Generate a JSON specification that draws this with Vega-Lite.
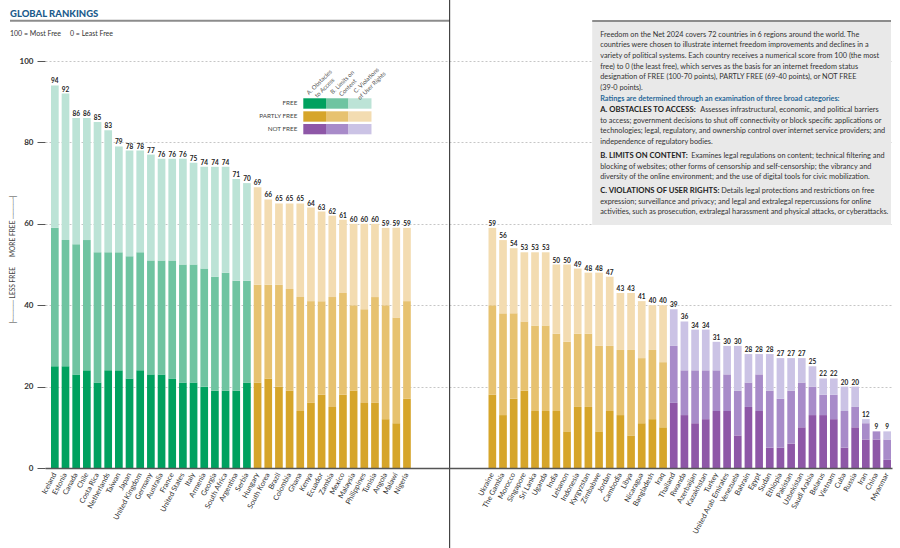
{
"$schema": "https://vega.github.io/schema/vega-lite/v6.json",
"width": 847, "height": 407,
"autosize": "none",
"padding": {"left": 45, "top": 61, "right": 8, "bottom": 80},
"background": "white",
"config": {"view": {"stroke": null}, "font": "Lato"},
"datasets": {
 "c": [
  {"country":"Iceland","status":"FREE","A":25,"B":34,"C":35,"score":94},
  {"country":"Estonia","status":"FREE","A":25,"B":31,"C":36,"score":92},
  {"country":"Canada","status":"FREE","A":23,"B":32,"C":31,"score":86},
  {"country":"Chile","status":"FREE","A":24,"B":32,"C":30,"score":86},
  {"country":"Costa Rica","status":"FREE","A":21,"B":32,"C":32,"score":85},
  {"country":"Netherlands","status":"FREE","A":24,"B":29,"C":30,"score":83},
  {"country":"Taiwan","status":"FREE","A":24,"B":29,"C":26,"score":79},
  {"country":"Japan","status":"FREE","A":22,"B":30,"C":26,"score":78},
  {"country":"United Kingdom","status":"FREE","A":24,"B":29,"C":25,"score":78},
  {"country":"Germany","status":"FREE","A":23,"B":28,"C":26,"score":77},
  {"country":"Australia","status":"FREE","A":23,"B":28,"C":25,"score":76},
  {"country":"France","status":"FREE","A":22,"B":29,"C":25,"score":76},
  {"country":"United States","status":"FREE","A":21,"B":29,"C":26,"score":76},
  {"country":"Italy","status":"FREE","A":21,"B":29,"C":25,"score":75},
  {"country":"Armenia","status":"FREE","A":20,"B":29,"C":25,"score":74},
  {"country":"Georgia","status":"FREE","A":19,"B":28,"C":27,"score":74},
  {"country":"South Africa","status":"FREE","A":19,"B":29,"C":26,"score":74},
  {"country":"Argentina","status":"FREE","A":19,"B":27,"C":25,"score":71},
  {"country":"Serbia","status":"FREE","A":21,"B":25,"C":24,"score":70},
  {"country":"Hungary","status":"PARTLY FREE","A":21,"B":24,"C":24,"score":69},
  {"country":"South Korea","status":"PARTLY FREE","A":22,"B":23,"C":21,"score":66},
  {"country":"Brazil","status":"PARTLY FREE","A":20,"B":25,"C":20,"score":65},
  {"country":"Colombia","status":"PARTLY FREE","A":19,"B":25,"C":21,"score":65},
  {"country":"Ghana","status":"PARTLY FREE","A":14,"B":28,"C":23,"score":65},
  {"country":"Kenya","status":"PARTLY FREE","A":16,"B":25,"C":23,"score":64},
  {"country":"Ecuador","status":"PARTLY FREE","A":18,"B":23,"C":22,"score":63},
  {"country":"Zambia","status":"PARTLY FREE","A":15,"B":27,"C":20,"score":62},
  {"country":"Mexico","status":"PARTLY FREE","A":18,"B":25,"C":18,"score":61},
  {"country":"Malaysia","status":"PARTLY FREE","A":19,"B":21,"C":20,"score":60},
  {"country":"Philippines","status":"PARTLY FREE","A":16,"B":23,"C":21,"score":60},
  {"country":"Tunisia","status":"PARTLY FREE","A":16,"B":26,"C":18,"score":60},
  {"country":"Angola","status":"PARTLY FREE","A":12,"B":28,"C":19,"score":59},
  {"country":"Malawi","status":"PARTLY FREE","A":11,"B":26,"C":22,"score":59},
  {"country":"Nigeria","status":"PARTLY FREE","A":17,"B":24,"C":18,"score":59},
  {"country":"Ukraine","status":"PARTLY FREE","A":18,"B":22,"C":19,"score":59},
  {"country":"The Gambia","status":"PARTLY FREE","A":13,"B":25,"C":18,"score":56},
  {"country":"Morocco","status":"PARTLY FREE","A":17,"B":21,"C":16,"score":54},
  {"country":"Singapore","status":"PARTLY FREE","A":19,"B":17,"C":17,"score":53},
  {"country":"Sri Lanka","status":"PARTLY FREE","A":14,"B":21,"C":18,"score":53},
  {"country":"Uganda","status":"PARTLY FREE","A":14,"B":21,"C":18,"score":53},
  {"country":"India","status":"PARTLY FREE","A":14,"B":19,"C":17,"score":50},
  {"country":"Lebanon","status":"PARTLY FREE","A":9,"B":22,"C":19,"score":50},
  {"country":"Indonesia","status":"PARTLY FREE","A":15,"B":18,"C":16,"score":49},
  {"country":"Kyrgyzstan","status":"PARTLY FREE","A":15,"B":18,"C":15,"score":48},
  {"country":"Zimbabwe","status":"PARTLY FREE","A":9,"B":21,"C":18,"score":48},
  {"country":"Jordan","status":"PARTLY FREE","A":14,"B":16,"C":17,"score":47},
  {"country":"Cambodia","status":"PARTLY FREE","A":13,"B":16,"C":14,"score":43},
  {"country":"Libya","status":"PARTLY FREE","A":8,"B":21,"C":14,"score":43},
  {"country":"Nicaragua","status":"PARTLY FREE","A":11,"B":16,"C":14,"score":41},
  {"country":"Bangladesh","status":"PARTLY FREE","A":12,"B":17,"C":11,"score":40},
  {"country":"Iraq","status":"PARTLY FREE","A":10,"B":16,"C":14,"score":40},
  {"country":"Thailand","status":"NOT FREE","A":16,"B":14,"C":9,"score":39},
  {"country":"Rwanda","status":"NOT FREE","A":13,"B":11,"C":12,"score":36},
  {"country":"Azerbaijan","status":"NOT FREE","A":11,"B":13,"C":10,"score":34},
  {"country":"Kazakhstan","status":"NOT FREE","A":12,"B":12,"C":10,"score":34},
  {"country":"Turkey","status":"NOT FREE","A":14,"B":10,"C":7,"score":31},
  {"country":"United Arab Emirates","status":"NOT FREE","A":14,"B":9,"C":7,"score":30},
  {"country":"Venezuela","status":"NOT FREE","A":8,"B":11,"C":11,"score":30},
  {"country":"Bahrain","status":"NOT FREE","A":15,"B":6,"C":7,"score":28},
  {"country":"Egypt","status":"NOT FREE","A":14,"B":9,"C":5,"score":28},
  {"country":"Sudan","status":"NOT FREE","A":5,"B":14,"C":9,"score":28},
  {"country":"Ethiopia","status":"NOT FREE","A":5,"B":12,"C":10,"score":27},
  {"country":"Pakistan","status":"NOT FREE","A":6,"B":13,"C":8,"score":27},
  {"country":"Uzbekistan","status":"NOT FREE","A":10,"B":11,"C":6,"score":27},
  {"country":"Saudi Arabia","status":"NOT FREE","A":13,"B":7,"C":5,"score":25},
  {"country":"Belarus","status":"NOT FREE","A":13,"B":5,"C":4,"score":22},
  {"country":"Vietnam","status":"NOT FREE","A":12,"B":6,"C":4,"score":22},
  {"country":"Cuba","status":"NOT FREE","A":5,"B":9,"C":6,"score":20},
  {"country":"Russia","status":"NOT FREE","A":10,"B":5,"C":5,"score":20},
  {"country":"Iran","status":"NOT FREE","A":7,"B":4,"C":1,"score":12},
  {"country":"China","status":"NOT FREE","A":7,"B":2,"C":0,"score":9},
  {"country":"Myanmar","status":"NOT FREE","A":2,"B":5,"C":2,"score":9}
 ],
 "one": [{"k": 1}]
},
"layer": [
  {
   "data": {"name": "c"},
   "transform": [{"fold": ["A","B","C"], "as": ["key","value"]}],
   "mark": {"type": "bar"},
   "encoding": {
    "x": {"field": "country", "type": "nominal", "sort": null, "title": null,
     "scale": {"domain": ["Iceland","Estonia","Canada","Chile","Costa Rica","Netherlands","Taiwan","Japan","United Kingdom","Germany","Australia","France","United States","Italy","Armenia","Georgia","South Africa","Argentina","Serbia","Hungary","South Korea","Brazil","Colombia","Ghana","Kenya","Ecuador","Zambia","Mexico","Malaysia","Philippines","Tunisia","Angola","Malawi","Nigeria","g1","g2","g3","g4","g5","g6","g7","Ukraine","The Gambia","Morocco","Singapore","Sri Lanka","Uganda","India","Lebanon","Indonesia","Kyrgyzstan","Zimbabwe","Jordan","Cambodia","Libya","Nicaragua","Bangladesh","Iraq","Thailand","Rwanda","Azerbaijan","Kazakhstan","Turkey","United Arab Emirates","Venezuela","Bahrain","Egypt","Sudan","Ethiopia","Pakistan","Uzbekistan","Saudi Arabia","Belarus","Vietnam","Cuba","Russia","Iran","China","Myanmar"],
      "paddingInner": 0.28, "paddingOuter": 0.328, "align": 0.857, "round": false},
     "axis": {"title": null, "ticks": false, "domainColor": "#555", "domainWidth": 1.5,
      "labelAngle": -62, "labelAlign": "right", "labelBaseline": "middle", "labelFont": "Lato",
      "labelFontSize": 7.3, "labelColor": "#333", "labelPadding": 5, "labelOverlap": false,
      "labelExpr": "(length(datum.label) == 2 && substring(datum.label, 0, 1) == 'g') ? '' : datum.label",
      "zindex": 1, "grid": false}},
    "y": {"field": "value", "type": "quantitative", "stack": "zero",
     "scale": {"domain": [0, 100], "nice": false},
     "axis": {"values": [0,20,40,60,80,100], "tickSize": 8, "tickColor": "#555", "tickWidth": 1,
      "domain": false, "grid": true, "gridDash": [2,2], "gridColor": "#b8b8b8", "gridWidth": 0.8,
      "labelFont": "Lato", "labelFontWeight": "bold", "labelFontSize": 8, "labelColor": "#333", "labelPadding": 4,
      "title": "├──── LESS FREE\u2003\u2003MORE FREE ────┤",
      "titleFont": "Lato", "titleFontSize": 6.6, "titleFontWeight": "normal", "titleColor": "#444",
      "titleX": -33, "titleY": 198, "titleAngle": 270, "titleAlign": "center", "titleBaseline": "middle"}},
    "detail": {"field": "key"},
    "order": {"field": "key", "sort": "ascending"},
    "color": {"condition": [
      {"test": "datum.status === 'FREE' && datum.key === 'A'", "value": "#00a15f"},
      {"test": "datum.status === 'FREE' && datum.key === 'B'", "value": "#6fc4a1"},
      {"test": "datum.status === 'FREE' && datum.key === 'C'", "value": "#bce3d6"},
      {"test": "datum.status === 'PARTLY FREE' && datum.key === 'A'", "value": "#d6a52a"},
      {"test": "datum.status === 'PARTLY FREE' && datum.key === 'B'", "value": "#e7c270"},
      {"test": "datum.status === 'PARTLY FREE' && datum.key === 'C'", "value": "#f3dcb1"},
      {"test": "datum.status === 'NOT FREE' && datum.key === 'A'", "value": "#8e57a7"},
      {"test": "datum.status === 'NOT FREE' && datum.key === 'B'", "value": "#a88bc9"}
     ], "value": "#cbc3e5"}
   }
  },
  {
   "data": {"name": "c"},
   "mark": {"type": "text", "fontSize": 6.5, "fontWeight": "bold", "color": "#222", "baseline": "bottom", "dy": -1, "font": "Lato"},
   "encoding": {
    "x": {"field": "country", "type": "nominal", "sort": null},
    "y": {"field": "score", "type": "quantitative"},
    "text": {"field": "score", "type": "quantitative"}
   }
  },
  {
   "data": {"name": "one"},
   "mark": {"type": "rect", "color": "#e9e9e9"},
   "encoding": {
    "x": {"datum": "Kyrgyzstan", "type": "nominal", "bandPosition": 1},
    "x2": {"datum": "Myanmar", "bandPosition": 1},
    "y": {"datum": 109.8, "type": "quantitative"},
    "y2": {"datum": 59.7}
   }
  },
  {
   "data": {"name": "one"},
   "mark": {"type": "rule", "color": "#8c8c8c", "strokeWidth": 2},
   "encoding": {
    "x": {"datum": "Kyrgyzstan", "type": "nominal", "bandPosition": 1},
    "x2": {"datum": "Myanmar", "bandPosition": 1},
    "y": {"datum": 109.8, "type": "quantitative"}
   }
  },
  {
   "data": {"name": "one"},
   "mark": {"type": "rule", "color": "#8c8c8c", "strokeWidth": 2, "xOffset": -41},
   "encoding": {
    "x": {"datum": "Iceland", "type": "nominal", "bandPosition": 0},
    "x2": {"datum": "g4", "bandPosition": 0.5},
    "y": {"datum": 109.9, "type": "quantitative"}
   }
  },
  {
   "data": {"name": "one"},
   "mark": {"type": "rule", "color": "#222", "strokeWidth": 1},
   "encoding": {
    "x": {"datum": "g4", "type": "nominal", "bandPosition": 0.5},
    "y": {"datum": 116, "type": "quantitative"},
    "y2": {"datum": -21}
   }
  },
  {
   "data": {"name": "one"},
   "mark": {"type": "text", "text": "GLOBAL RANKINGS", "font": "Lato", "fontWeight": 900, "fontSize": 9.5, "color": "#1b5b8c", "align": "left", "baseline": "middle", "dx": -41},
   "encoding": {
    "x": {"datum": "Iceland", "type": "nominal", "bandPosition": 0},
    "y": {"datum": 111.6, "type": "quantitative"}
   }
  },
  {
   "data": {"name": "one"},
   "mark": {"type": "text", "text": "100 = Most Free\u00a0\u00a0\u00a0\u00a0\u00a00 = Least Free", "font": "Lato", "fontSize": 7, "color": "#333", "align": "left", "baseline": "middle", "dx": -41},
   "encoding": {
    "x": {"datum": "Iceland", "type": "nominal", "bandPosition": 0},
    "y": {"datum": 106.7, "type": "quantitative"}
   }
  },
  {
   "data": {"name": "one"},
   "mark": {"type": "text", "font": "Lato", "fontSize": 7.3, "color": "#333", "align": "left", "baseline": "middle", "dx": 8, "lineHeight": 10.7,
    "text": ["Freedom on the Net 2024 covers 72 countries in 6 regions around the world. The",
     "countries were chosen to illustrate internet freedom improvements and declines in a",
     "variety of political systems. Each country receives a numerical score from 100 (the most",
     "free) to 0 (the least free), which serves as the basis for an internet freedom status",
     "designation of FREE (100-70 points), PARTLY FREE (69-40 points), or NOT FREE",
     "(39-0 points)."]},
   "encoding": {
    "x": {"datum": "Kyrgyzstan", "type": "nominal", "bandPosition": 1},
    "y": {"datum": 106.51, "type": "quantitative"}
   }
  },
  {
   "data": {"name": "one"},
   "mark": {"type": "text", "font": "Lato", "fontSize": 7.3, "fontWeight": "bold", "color": "#2a6a9a", "align": "left", "baseline": "middle", "dx": 8,
    "text": "Ratings are determined through an examination of three broad categories:"},
   "encoding": {
    "x": {"datum": "Kyrgyzstan", "type": "nominal", "bandPosition": 1},
    "y": {"datum": 90.66, "type": "quantitative"}
   }
  },
  {
   "data": {"name": "one"},
   "mark": {"type": "text", "font": "Lato", "fontSize": 7.7, "fontWeight": "bold", "color": "#222", "align": "left", "baseline": "middle", "dx": 8,
    "text": "A. OBSTACLES TO ACCESS:"},
   "encoding": {
    "x": {"datum": "Kyrgyzstan", "type": "nominal", "bandPosition": 1},
    "y": {"datum": 87.84, "type": "quantitative"}
   }
  },
  {
   "data": {"name": "one"},
   "mark": {"type": "text", "font": "Lato", "fontSize": 7.3, "color": "#333", "align": "left", "baseline": "middle", "dx": 108,
    "text": "Assesses infrastructural, economic, and political barriers"},
   "encoding": {
    "x": {"datum": "Kyrgyzstan", "type": "nominal", "bandPosition": 1},
    "y": {"datum": 87.84, "type": "quantitative"}
   }
  },
  {
   "data": {"name": "one"},
   "mark": {"type": "text", "font": "Lato", "fontSize": 7.3, "color": "#333", "align": "left", "baseline": "middle", "dx": 8, "lineHeight": 10.5,
    "text": ["to access; government decisions to shut off connectivity or block specific applications or",
     "technologies; legal, regulatory, and ownership control over internet service providers; and",
     "independence of regulatory bodies."]},
   "encoding": {
    "x": {"datum": "Kyrgyzstan", "type": "nominal", "bandPosition": 1},
    "y": {"datum": 85.26, "type": "quantitative"}
   }
  },
  {
   "data": {"name": "one"},
   "mark": {"type": "text", "font": "Lato", "fontSize": 7.7, "fontWeight": "bold", "color": "#222", "align": "left", "baseline": "middle", "dx": 8,
    "text": "B. LIMITS ON CONTENT:"},
   "encoding": {
    "x": {"datum": "Kyrgyzstan", "type": "nominal", "bandPosition": 1},
    "y": {"datum": 76.54, "type": "quantitative"}
   }
  },
  {
   "data": {"name": "one"},
   "mark": {"type": "text", "font": "Lato", "fontSize": 7.3, "color": "#333", "align": "left", "baseline": "middle", "dx": 99,
    "text": "Examines legal regulations on content; technical filtering and"},
   "encoding": {
    "x": {"datum": "Kyrgyzstan", "type": "nominal", "bandPosition": 1},
    "y": {"datum": 76.54, "type": "quantitative"}
   }
  },
  {
   "data": {"name": "one"},
   "mark": {"type": "text", "font": "Lato", "fontSize": 7.3, "color": "#333", "align": "left", "baseline": "middle", "dx": 8, "lineHeight": 10.5,
    "text": ["blocking of websites; other forms of censorship and self-censorship; the vibrancy and",
     "diversity of the online environment; and the use of digital tools for civic mobilization."]},
   "encoding": {
    "x": {"datum": "Kyrgyzstan", "type": "nominal", "bandPosition": 1},
    "y": {"datum": 73.96, "type": "quantitative"}
   }
  },
  {
   "data": {"name": "one"},
   "mark": {"type": "text", "font": "Lato", "fontSize": 7.7, "fontWeight": "bold", "color": "#222", "align": "left", "baseline": "middle", "dx": 8,
    "text": "C. VIOLATIONS OF USER RIGHTS:"},
   "encoding": {
    "x": {"datum": "Kyrgyzstan", "type": "nominal", "bandPosition": 1},
    "y": {"datum": 67.94, "type": "quantitative"}
   }
  },
  {
   "data": {"name": "one"},
   "mark": {"type": "text", "font": "Lato", "fontSize": 7.3, "color": "#333", "align": "left", "baseline": "middle", "dx": 129,
    "text": "Details legal protections and restrictions on free"},
   "encoding": {
    "x": {"datum": "Kyrgyzstan", "type": "nominal", "bandPosition": 1},
    "y": {"datum": 67.94, "type": "quantitative"}
   }
  },
  {
   "data": {"name": "one"},
   "mark": {"type": "text", "font": "Lato", "fontSize": 7.3, "color": "#333", "align": "left", "baseline": "middle", "dx": 8, "lineHeight": 10.5,
    "text": ["expression; surveillance and privacy; and legal and extralegal repercussions for online",
     "activities, such as prosecution, extralegal harassment and physical attacks, or cyberattacks."]},
   "encoding": {
    "x": {"datum": "Kyrgyzstan", "type": "nominal", "bandPosition": 1},
    "y": {"datum": 65.36, "type": "quantitative"}
   }
  },
  {"data": {"name": "one"}, "mark": {"type": "rect", "color": "#00a15f"},
   "encoding": {"x": {"datum": "Ghana", "type": "nominal", "bandPosition": 0.894}, "x2": {"datum": "Ecuador", "bandPosition": 1.07},
    "y": {"datum": 90.84, "type": "quantitative"}, "y2": {"datum": 88.28}}},
  {"data": {"name": "one"}, "mark": {"type": "rect", "color": "#6fc4a1"},
   "encoding": {"x": {"datum": "Ecuador", "type": "nominal", "bandPosition": 1.07}, "x2": {"datum": "Malaysia", "bandPosition": -0.168},
    "y": {"datum": 90.84, "type": "quantitative"}, "y2": {"datum": 88.28}}},
  {"data": {"name": "one"}, "mark": {"type": "rect", "color": "#bce3d6"},
   "encoding": {"x": {"datum": "Malaysia", "type": "nominal", "bandPosition": -0.168}, "x2": {"datum": "Tunisia", "bandPosition": 0.048},
    "y": {"datum": 90.84, "type": "quantitative"}, "y2": {"datum": 88.28}}},
  {"data": {"name": "one"}, "mark": {"type": "rect", "color": "#d6a52a"},
   "encoding": {"x": {"datum": "Ghana", "type": "nominal", "bandPosition": 0.894}, "x2": {"datum": "Ecuador", "bandPosition": 1.07},
    "y": {"datum": 87.64, "type": "quantitative"}, "y2": {"datum": 85.09}}},
  {"data": {"name": "one"}, "mark": {"type": "rect", "color": "#e7c270"},
   "encoding": {"x": {"datum": "Ecuador", "type": "nominal", "bandPosition": 1.07}, "x2": {"datum": "Malaysia", "bandPosition": -0.168},
    "y": {"datum": 87.64, "type": "quantitative"}, "y2": {"datum": 85.09}}},
  {"data": {"name": "one"}, "mark": {"type": "rect", "color": "#f3dcb1"},
   "encoding": {"x": {"datum": "Malaysia", "type": "nominal", "bandPosition": -0.168}, "x2": {"datum": "Tunisia", "bandPosition": 0.048},
    "y": {"datum": 87.64, "type": "quantitative"}, "y2": {"datum": 85.09}}},
  {"data": {"name": "one"}, "mark": {"type": "rect", "color": "#8e57a7"},
   "encoding": {"x": {"datum": "Ghana", "type": "nominal", "bandPosition": 0.894}, "x2": {"datum": "Ecuador", "bandPosition": 1.07},
    "y": {"datum": 84.52, "type": "quantitative"}, "y2": {"datum": 81.99}}},
  {"data": {"name": "one"}, "mark": {"type": "rect", "color": "#a88bc9"},
   "encoding": {"x": {"datum": "Ecuador", "type": "nominal", "bandPosition": 1.07}, "x2": {"datum": "Malaysia", "bandPosition": -0.168},
    "y": {"datum": 84.52, "type": "quantitative"}, "y2": {"datum": 81.99}}},
  {"data": {"name": "one"}, "mark": {"type": "rect", "color": "#cbc3e5"},
   "encoding": {"x": {"datum": "Malaysia", "type": "nominal", "bandPosition": -0.168}, "x2": {"datum": "Tunisia", "bandPosition": 0.048},
    "y": {"datum": 84.52, "type": "quantitative"}, "y2": {"datum": 81.99}}},
  {
   "data": {"name": "one"},
   "mark": {"type": "text", "font": "Lato", "fontSize": 6.3, "color": "#444", "align": "right", "baseline": "middle", "dx": -6, "lineHeight": 12.85,
    "text": ["FREE", "PARTLY FREE", "NOT FREE"]},
   "encoding": {
    "x": {"datum": "Ghana", "type": "nominal", "bandPosition": 0.894},
    "y": {"datum": 89.56, "type": "quantitative"}
   }
  },
  {
   "data": {"name": "one"},
   "mark": {"type": "text", "font": "Lato", "fontSize": 6, "color": "#555", "align": "center", "baseline": "middle", "angle": 315, "lineHeight": 7.7, "dx": 5.2, "dy": 1.4,
    "text": ["A. Obstacles", "to Access"]},
   "encoding": {
    "x": {"datum": "Kenya", "type": "nominal", "bandPosition": 0.98},
    "y": {"datum": 94.1, "type": "quantitative"}
   }
  },
  {
   "data": {"name": "one"},
   "mark": {"type": "text", "font": "Lato", "fontSize": 6, "color": "#555", "align": "center", "baseline": "middle", "angle": 315, "lineHeight": 7.7, "dx": 5.5, "dy": 1.7,
    "text": ["B. Limits on", "Content"]},
   "encoding": {
    "x": {"datum": "Zambia", "type": "nominal", "bandPosition": 1.145},
    "y": {"datum": 94.1, "type": "quantitative"}
   }
  },
  {
   "data": {"name": "one"},
   "mark": {"type": "text", "font": "Lato", "fontSize": 6, "color": "#555", "align": "center", "baseline": "middle", "angle": 315, "lineHeight": 7.7, "dx": 7.7, "dy": 1.1,
    "text": ["C. Violations", "of User Rights"]},
   "encoding": {
    "x": {"datum": "Philippines", "type": "nominal", "bandPosition": -0.05},
    "y": {"datum": 94.1, "type": "quantitative"}
   }
  }
]
}
